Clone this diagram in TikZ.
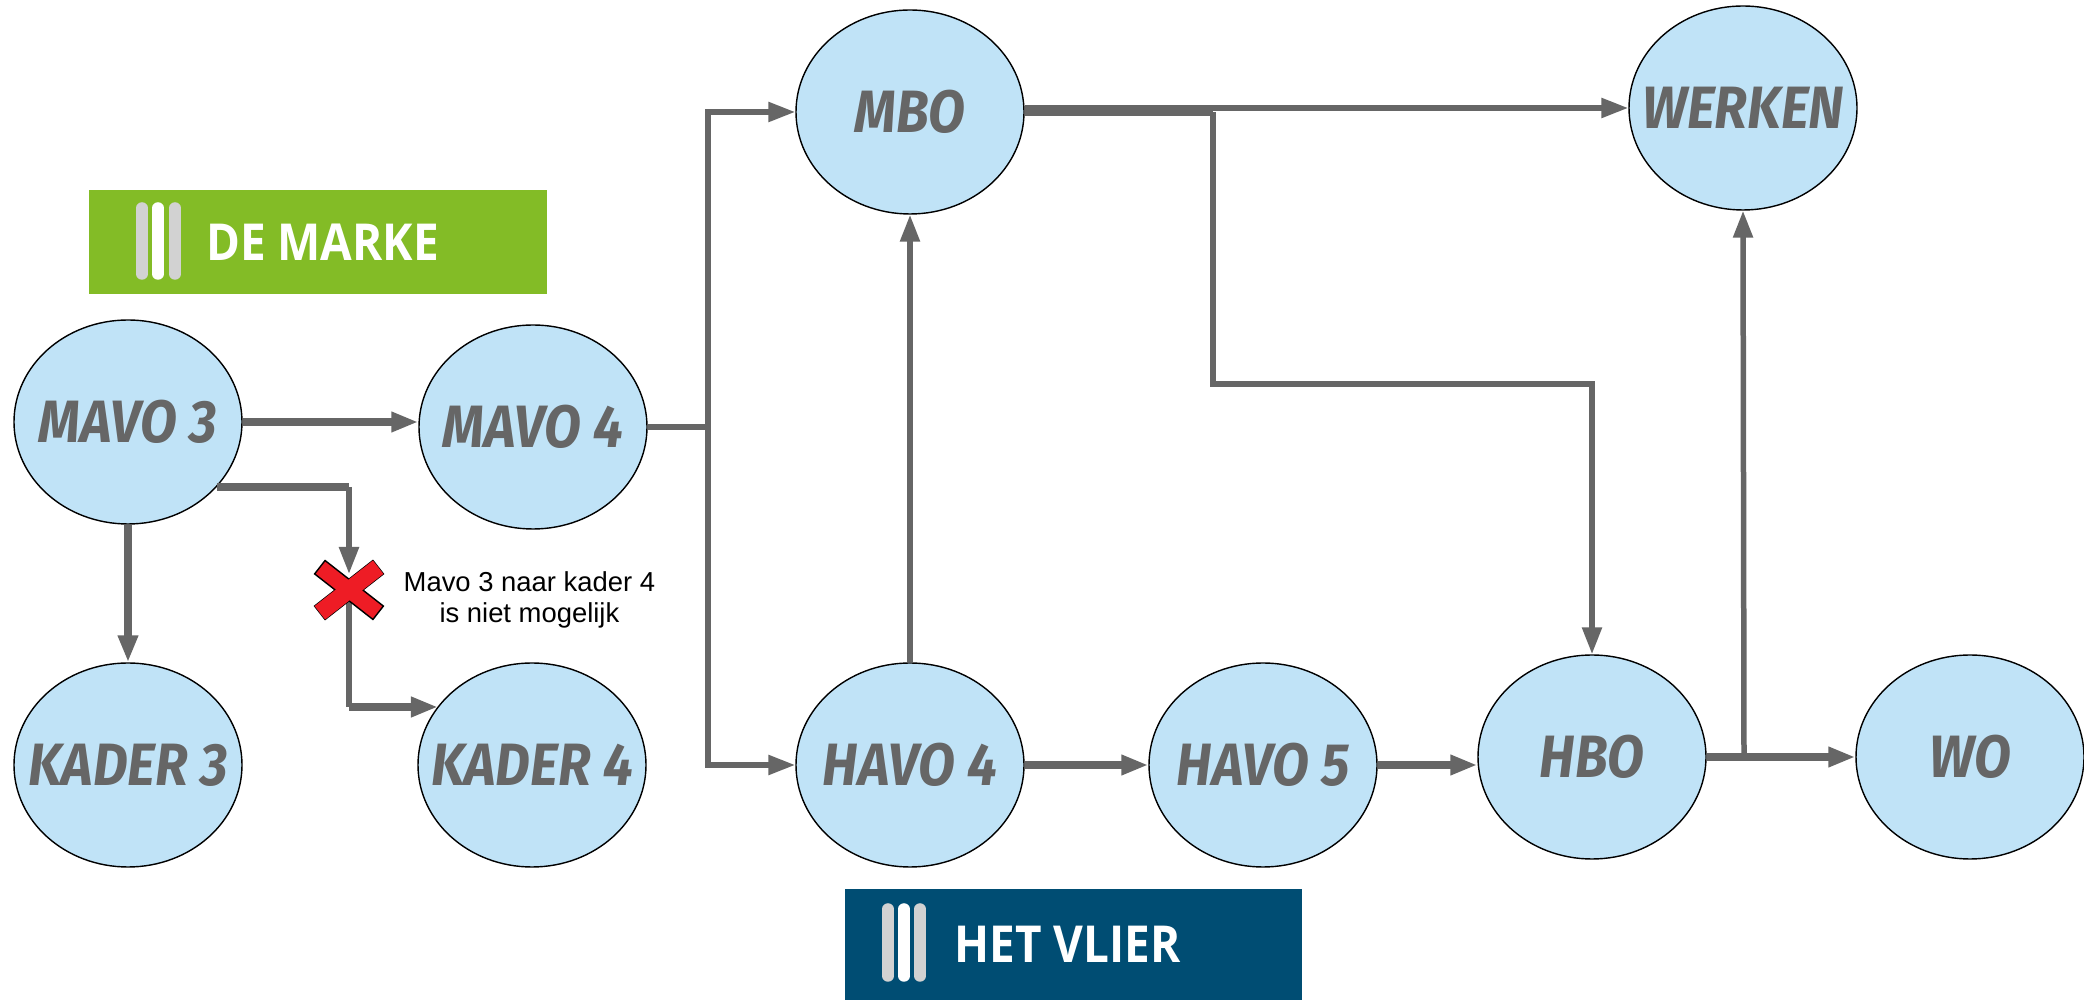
\documentclass[tikz,border=0pt]{standalone}
\usepackage{fontspec}
\setmainfont{Liberation Sans}
\newfontfamily\schoolfont[FakeStretch=0.9]{Fira Sans}
\newfontfamily\logofont[FakeStretch=0.9]{Open Sans}
\usetikzlibrary{arrows.meta,shapes.geometric,positioning}
\definecolor{obj}{HTML}{C0E3F7}
\definecolor{flow}{HTML}{666666}
\definecolor{markeG}{HTML}{83BC26}
\definecolor{vlierB}{HTML}{004D73}
\definecolor{barG}{HTML}{D2D2D2}
\definecolor{crossR}{HTML}{EE1C25}
\newcommand{\schoolname}[1]{\makebox[0pt]{#1}}

\begin{document}
\begin{tikzpicture}[
	School/.style={draw=black, line width=0.4pt, ellipse, fill=obj, minimum width=2.28cm, minimum height=2.04cm,
		inner sep=0pt, text=flow, font=\schoolfont\itshape\bfseries\fontsize{17}{20}\selectfont},
	FlowThick/.style={draw=flow, line width=0.075cm},
	FlowThin/.style={draw=flow, line width=0.055cm},
	Tip/.style={-{Triangle[length=0.27cm, width=0.19cm]}},
	Logo/.style={minimum width=4.57cm, outer sep=0pt, inner sep=0pt},
	LogoText/.style={text=white, inner sep=0pt, font=\logofont\bfseries\fontsize{14.5}{16}\selectfont},
	Bar/.style={line width=0.115cm, line cap=round},
	CrossArm/.style={draw=black, fill=crossR, line width=0.4pt, minimum width=0.74cm, minimum height=0.17cm, inner sep=0pt},
	]
	\useasboundingbox (0,0) rectangle (20.84,-10);
	
	% logos
	\node [Logo, fill=markeG, minimum height=1.04cm] (marke) at (3.18,-2.42) {};
	\node [Logo, fill=vlierB, minimum height=1.11cm] (vlier) at (10.735,-9.445) {};
	\node [LogoText, right=1.16cm of marke.west] (markeText) {DE MARKE};
	\node [LogoText, right=1.09cm of vlier.west] (vlierText) {HET VLIER};
	\foreach \x/\c in {1.42/barG, 1.75/barG, 1.58/white} {
		\draw [Bar, \c] (\x,-2.08) -- (\x,-2.74);
	}
	\foreach \x/\c in {8.88/barG, 9.20/barG, 9.04/white} {
		\draw [Bar, \c] (\x,-9.09) -- (\x,-9.76);
	}
	
	% schools
	\node [School] (mavo3) at (1.28,-4.22) {\schoolname{MAVO 3}};
	\node [School] (mavo4) at (5.33,-4.27) {\schoolname{MAVO 4}};
	\node [School] (kader3) at (1.28,-7.65) {\schoolname{KADER 3}};
	\node [School] (kader4) at (5.32,-7.65) {\schoolname{KADER 4}};
	\node [School] (mbo) at (9.10,-1.12) {\schoolname{MBO}};
	\node [School] (werken) at (17.43,-1.08) {\schoolname{WERKEN}};
	\node [School] (havo4) at (9.10,-7.65) {\schoolname{HAVO 4}};
	\node [School] (havo5) at (12.63,-7.65) {\schoolname{HAVO 5}};
	\node [School] (hbo) at (15.92,-7.57) {\schoolname{HBO}};
	\node [School] (wo) at (19.70,-7.57) {\schoolname{WO}};
	
	% helper points
	\coordinate (split4) at (7.08,-4.27);
	\coordinate (splitM) at (12.13,-1.12);
	\coordinate (splitH) at (17.44,-7.57);
	\coordinate (bendK) at (3.49,-4.87);
	\coordinate (bendH) at (15.92,-3.84);
	\coordinate (crossC) at (3.49,-5.90);
	\coordinate (bendL) at (3.49,-7.07);
	
	% left part
	\draw [FlowThick, Tip] (mavo3.east) -- (mavo4.west |- mavo3.east);
	\draw [FlowThick, Tip] (mavo3.south) -- (kader3.north);
	\draw [FlowThick] (bendK -| mavo3.-36) -- (bendK);
	\draw [FlowThin, Tip, shorten >=0.03cm] (bendK) -- (3.49,-5.77);
	\draw [FlowThin] (crossC) -- (bendL);
	\draw [FlowThick, Tip] (bendL) -- (bendL -| kader4.148);
	\node [CrossArm, rotate=38] (crossA) at (crossC) {};
	\node [CrossArm, rotate=-38] (crossB) at (crossC) {};
	\node [CrossArm, rotate=38, draw=none] (crossD) at (crossC) {};
	\node [align=center, inner sep=0pt, font=\fontsize{7.8}{8.8}\selectfont, right=0.54cm of crossC, yshift=-0.1cm] (note) {Mavo 3 naar kader 4\\is niet mogelijk};
	
	% middle part
	\draw [FlowThin] (mavo4.east) -- (split4);
	\draw [FlowThin, Tip] (split4) |- (mbo.west);
	\draw [FlowThin, Tip] (split4) |- (havo4.west);
	\draw [FlowThin, Tip] (havo4.north) -- (mbo.south);
	\draw [FlowThick, Tip] (havo4.east) -- (havo5.west);
	\draw [FlowThick, Tip] (havo5.east) -- (hbo.west |- havo5.east);
	
	% right part
	\draw [FlowThick] (mbo.east) -- (splitM);
	\draw [FlowThin, Tip] (mbo.east |- werken.west) -- (werken.west);
	\draw [FlowThin, Tip] (splitM) |- (bendH) -- (hbo.north);
	\draw [FlowThick, Tip] (hbo.east) -- (wo.west);
	\draw [FlowThin, Tip] (splitH) -- (werken.south);
\end{tikzpicture}
\end{document}
